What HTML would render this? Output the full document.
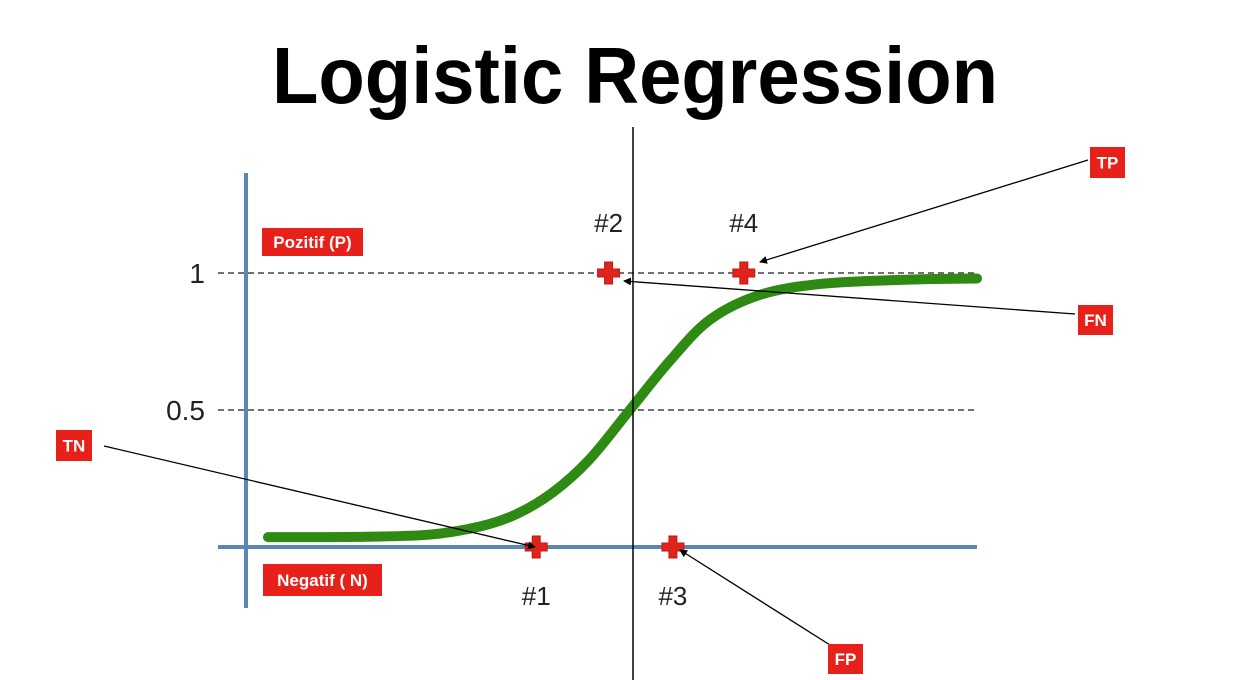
<!DOCTYPE html>
<html><head><meta charset="utf-8"><style>
html,body{margin:0;padding:0;background:#fff;}
svg{display:block;font-family:"Liberation Sans",sans-serif;}
</style></head><body>
<svg id="chart" width="1251" height="680" viewBox="0 0 1251 680">
<defs><marker id="ah" markerWidth="8" markerHeight="8" refX="7" refY="4" orient="auto" markerUnits="userSpaceOnUse"><path d="M0,0 L8,4 L0,8 z" fill="#000"/></marker></defs>
<text x="635" y="103" text-anchor="middle" font-size="80" font-weight="bold" textLength="726" lengthAdjust="spacingAndGlyphs" fill="#000">Logistic Regression</text>
<g id="axes"></g>
<g id="plot"></g>
</svg>
<script>
const curveX = [0.3, 1.5, 2.5, 3.2, 3.7, 4.2, 4.7, 5.25, 5.8, 6.35, 7.03, 7.85, 8.95, 10];
const curveP = [0.036, 0.037, 0.045, 0.075, 0.12, 0.2, 0.32, 0.5, 0.68, 0.83, 0.92, 0.96, 0.975, 0.98];
const pointLabels = ["#1", "#2", "#3", "#4"];
const pointX = [3.97, 4.96, 5.84, 6.81];
const pointP = [0, 1, 0, 1];
const tickValues = [1, 0.5];
const tickLabels = ["1", "0.5"];

const NS = "http://www.w3.org/2000/svg";
const sx = v => 246 + v * 73.1;
const sy = p => 547 - p * 274;
function mk(tag, attrs, parent, txt){const e=document.createElementNS(NS,tag);for(const k in attrs)e.setAttribute(k,attrs[k]);if(txt!==undefined)e.textContent=txt;parent.appendChild(e);return e;}
const axes=document.getElementById('axes'), plot=document.getElementById('plot');

tickValues.forEach((v,i)=>{
  const l=mk('line',{x1:218,x2:977,y1:sy(v),y2:sy(v),stroke:'#444','stroke-width':1.5,'stroke-dasharray':'6,4'},axes);
  
  
  const t=mk('text',{x:205,y:sy(v)+10,'text-anchor':'end','font-size':28,fill:'#222'},axes,tickLabels[i]);
  
  
});
const ya=mk('line',{x1:246,x2:246,y1:173,y2:608,stroke:'#5b86b8','stroke-width':4},axes);


const xa=mk('line',{x1:218,x2:977,y1:sy(0),y2:sy(0),stroke:'#5b86b8','stroke-width':4},axes);



// sigmoid curve (Catmull-Rom smoothing)
const P=curveX.map((x,i)=>[sx(x),sy(curveP[i])]);
let d='M'+P[0][0]+','+P[0][1];
for(let i=0;i<P.length-1;i++){
  const p0=P[Math.max(0,i-1)],p1=P[i],p2=P[i+1],p3=P[Math.min(P.length-1,i+2)];
  const c1=[p1[0]+(p2[0]-p0[0])/6,p1[1]+(p2[1]-p0[1])/6];
  const c2=[p2[0]-(p3[0]-p1[0])/6,p2[1]-(p3[1]-p1[1])/6];
  d+=` C${c1[0].toFixed(1)},${c1[1].toFixed(1)} ${c2[0].toFixed(1)},${c2[1].toFixed(1)} ${p2[0].toFixed(1)},${p2[1].toFixed(1)}`;
}
const c=mk('path',{d:d,fill:'none',stroke:'#2f8a14','stroke-width':10,'stroke-linecap':'round','stroke-linejoin':'round'},plot);



// threshold line
const th=mk('line',{x1:633,x2:633,y1:127,y2:680,stroke:'#000','stroke-width':1.5},plot);



// points
pointX.forEach((x,i)=>{
  const cx=sx(x), cy=sy(pointP[i]);
  const g=mk('path',{d:`M${cx-4},${cy-11}h8v7h7v8h-7v7h-8v-7h-7v-8h7z`,fill:'#e0231b',stroke:'#c01a14','stroke-width':1},plot);
  
  
  const ly = pointP[i]===1 ? cy-41 : cy+58;
  const t=mk('text',{x:cx,y:ly,'text-anchor':'middle','font-size':26,fill:'#222'},plot,pointLabels[i]);
  
  
});

// arrows
[[104,446,535,547,'tn-arrow'],[1088,160,760,262,'tp-arrow'],[1075,314,624,281,'fn-arrow'],[830,645,680,550,'fp-arrow']].forEach(a=>{
  const l=mk('line',{x1:a[0],y1:a[1],x2:a[2],y2:a[3],stroke:'#000','stroke-width':1.3,'marker-end':'url(#ah)'},plot);
  
  
});

// boxes
[[262,228,101,28,'Pozitif (P)','positive-label'],[263,564,119,32,'Negatif ( N)','negative-label'],[56,430,36,31,'TN','tn-label'],[1090,147,35,31,'TP','tp-label'],[1078,305,35,30,'FN','fn-label'],[828,644,35,30,'FP','fp-label']].forEach(b=>{
  const g=mk('g',{},plot);
  
  
  mk('rect',{x:b[0],y:b[1],width:b[2],height:b[3],fill:'#e8201a'},g);
  mk('text',{x:b[0]+b[2]/2,y:b[1]+b[3]/2+6,'text-anchor':'middle','font-size':17,'font-weight':'bold',fill:'#fff'},g,b[4]);
});
</script>
</body></html>
